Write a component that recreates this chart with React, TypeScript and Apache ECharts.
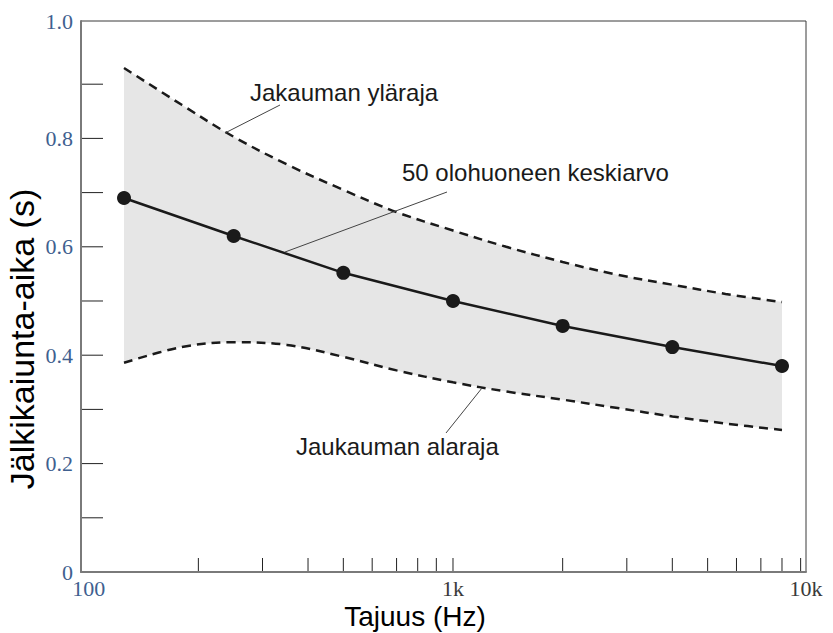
import React, { useEffect, useRef } from 'react';
import * as echarts from 'echarts';

// Octave band mean reverberation time (50 living rooms)
const meanFreqs = [125, 250, 500, 1000, 2000, 4000, 8000];
const meanValues = [0.69, 0.62, 0.552, 0.5, 0.454, 0.415, 0.38];

// Distribution bounds
const boundFreqs = [125, 180, 250, 350, 500, 700, 1000, 1400, 2000, 2800, 4000, 5600, 8000];
const upperValues = [0.93, 0.862, 0.803, 0.752, 0.705, 0.664, 0.63, 0.6, 0.572, 0.549, 0.53, 0.513, 0.498];
const lowerValues = [0.386, 0.415, 0.424, 0.419, 0.397, 0.372, 0.35, 0.333, 0.318, 0.303, 0.287, 0.274, 0.262];

// Tick marks
const xMinorTicks = [200, 300, 400, 500, 600, 700, 800, 900, 1000, 2000, 3000, 4000, 5000, 6000, 7000, 8000, 9000];
const yMinorTicks = [0.1, 0.2, 0.3, 0.4, 0.5, 0.6, 0.7, 0.8, 0.9];
const xTickLabels = ['100', '1k', '10k'];
const yTickLabels = ['0', '0.2', '0.4', '0.6', '0.8', '1.0'];

const X_MIN = 95.249;
const X_MAX = 9310.9;
const Y_MAX = 1.0166;

export default function App() {
  const ref = useRef<HTMLDivElement>(null);
  useEffect(() => {
    if (!ref.current) return;
    const chart = echarts.init(ref.current, undefined, { renderer: 'svg' });
    const smooth = 0.35;
    const ann = '#1a1a1a';
    const annFont = '"Liberation Sans", Arial, sans-serif';
    const serif = '"Liberation Serif", "Times New Roman", serif';
    chart.setOption({
      animation: false,
      backgroundColor: '#ffffff',
      grid: {
        left: 81,
        top: 21,
        right: 27,
        bottom: 61,
        show: true,
        borderColor: '#3a3a3a',
        borderWidth: 1,
        backgroundColor: 'transparent',
      },
      xAxis: {
        type: 'log',
        logBase: 10,
        min: X_MIN,
        max: X_MAX,
        z: 10,
        axisLine: { show: true, lineStyle: { color: '#7a7a7a', width: 2 } },
        axisTick: { show: false },
        splitLine: { show: false },
        axisLabel: {
          margin: 5,
          fontFamily: serif,
          fontSize: 22,
          color: '#3a3a3a',
          showMinLabel: true,
          showMaxLabel: true,
          formatter: (v: number) => {
            if (Math.abs(v - 100) < 0.01) return '{b|' + xTickLabels[0] + '}';
            if (Math.abs(v - 1000) < 0.1) return xTickLabels[1];
            if (v >= 9000) return xTickLabels[2];
            return '';
          },
          rich: { b: { color: '#3f5f8f', fontSize: 22, fontFamily: serif } },
        },
      },
      yAxis: {
        type: 'value',
        min: 0,
        max: Y_MAX,
        interval: 0.2,
        z: 10,
        axisLine: { show: true, lineStyle: { color: '#7a7a7a', width: 2 } },
        axisTick: { show: false },
        splitLine: { show: false },
        axisLabel: {
          margin: 8,
          fontFamily: serif,
          fontSize: 22,
          color: '#3f5f8f',
          showMinLabel: true,
          showMaxLabel: true,
          formatter: (v: number) => {
            if (v > 1.001) return yTickLabels[5];
            if (Math.abs(v - 1) < 1e-6) return '';
            const idx = Math.round(v / 0.2);
            return yTickLabels[idx] ?? '';
          },
        },
      },
      series: [
        {
          name: 'Jakauman yläraja',
          type: 'line',
          data: boundFreqs.map((f, i) => [f, upperValues[i]]),
          smooth,
          symbol: 'none',
          lineStyle: { color: '#1a1a1a', width: 2.5, type: [9, 6] },
          areaStyle: { color: '#e6e6e6', opacity: 1 },
          z: 1,
        },
        {
          name: 'Jaukauman alaraja',
          type: 'line',
          data: boundFreqs.map((f, i) => [f, lowerValues[i]]),
          smooth,
          symbol: 'none',
          lineStyle: { color: '#1a1a1a', width: 2.5, type: [9, 6] },
          areaStyle: { color: '#ffffff', opacity: 1 },
          z: 2,
        },
        {
          name: '50 olohuoneen keskiarvo',
          type: 'line',
          data: meanFreqs.map((f, i) => [f, meanValues[i]]),
          symbol: 'circle',
          symbolSize: 14,
          itemStyle: { color: '#1a1a1a' },
          lineStyle: { color: '#1a1a1a', width: 2.5 },
          z: 4,
        },
        {
          name: 'xTicks',
          type: 'custom',
          clip: false,
          silent: true,
          z: 5,
          data: xMinorTicks.map((f) => [f, 0]),
          renderItem: (_p: any, api: any) => {
            const p = api.coord([api.value(0), api.value(1)]);
            return {
              type: 'line',
              shape: { x1: p[0], y1: p[1], x2: p[0], y2: p[1] - 14 },
              style: { stroke: '#222', lineWidth: 1 },
            };
          },
        },
        {
          name: 'yTicks',
          type: 'custom',
          clip: false,
          silent: true,
          z: 5,
          data: yMinorTicks.map((v) => [X_MIN, v]),
          renderItem: (_p: any, api: any) => {
            const p = api.coord([api.value(0), api.value(1)]);
            return {
              type: 'line',
              shape: { x1: p[0], y1: p[1], x2: p[0] + 22, y2: p[1] },
              style: { stroke: '#222', lineWidth: 1 },
            };
          },
        },
      ],
      graphic: [
        {
          type: 'text',
          left: 250,
          top: 80,
          style: { text: 'Jakauman yläraja', fill: ann, font: `24px ${annFont}` },
          z: 10,
        },
        {
          type: 'text',
          left: 402,
          top: 160,
          style: { text: '50 olohuoneen keskiarvo', fill: ann, font: `24px ${annFont}` },
          z: 10,
        },
        {
          type: 'text',
          left: 296,
          top: 434,
          style: { text: 'Jaukauman alaraja', fill: ann, font: `24px ${annFont}` },
          z: 10,
        },
        {
          type: 'line',
          shape: { x1: 225, y1: 133, x2: 280, y2: 105 },
          style: { stroke: '#444', lineWidth: 1 },
          z: 10,
        },
        {
          type: 'line',
          shape: { x1: 285, y1: 252, x2: 447, y2: 192 },
          style: { stroke: '#444', lineWidth: 1 },
          z: 10,
        },
        {
          type: 'line',
          shape: { x1: 482, y1: 388, x2: 446, y2: 433 },
          style: { stroke: '#444', lineWidth: 1 },
          z: 10,
        },
        {
          type: 'text',
          x: 415,
          y: 616,
          style: {
            text: 'Tajuus (Hz)',
            fill: '#000',
            font: `28px ${annFont}`,
            align: 'center',
            verticalAlign: 'middle',
          },
          z: 10,
        },
        {
          type: 'text',
          x: 22,
          y: 339,
          rotation: Math.PI / 2,
          style: {
            text: 'Jälkikaiunta-aika (s)',
            fill: '#000',
            font: `34px ${annFont}`,
            align: 'center',
            verticalAlign: 'middle',
          },
          z: 10,
        },
      ],
    });
    return () => chart.dispose();
  }, []);
  return <div ref={ref} style={{ width: 833, height: 633, position: 'absolute', left: 0, top: 0 }} />;
}
